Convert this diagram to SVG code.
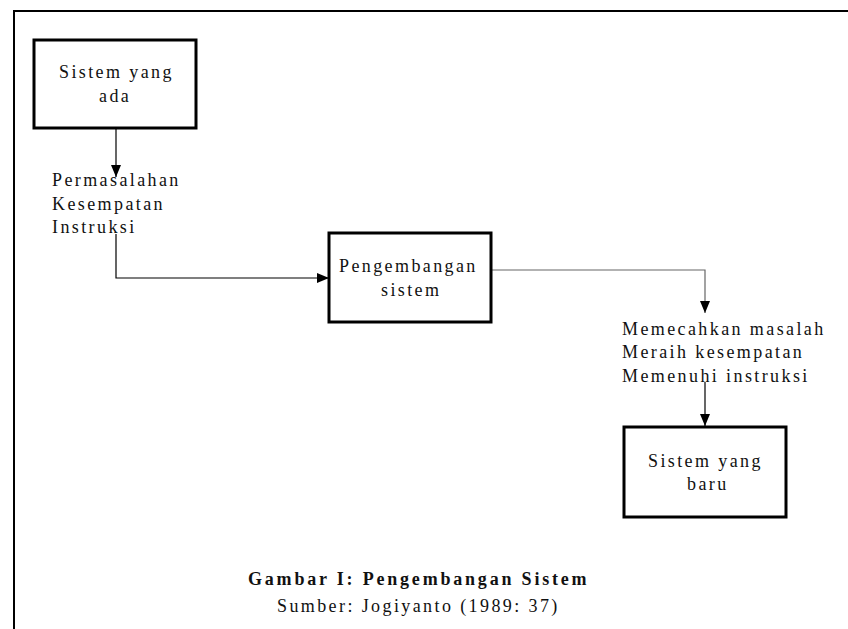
<svg xmlns="http://www.w3.org/2000/svg" width="848" height="629" viewBox="0 0 848 629">
  <style>
    .box { fill: #fff; stroke: #000; stroke-width: 3; }
    .lbl { font-family: "Liberation Serif", "Times New Roman", serif; font-size: 18px; letter-spacing: 2.4px; fill: #111; }
    .cap { font-family: "Liberation Serif", "Times New Roman", serif; font-size: 18px; fill: #111; }
    .wire { fill: none; stroke: #000; stroke-width: 1.2; }
    .wire.gray { stroke: #666; }
  </style>
  <defs>
    <marker id="arrow" viewBox="0 0 12 10" refX="12" refY="5" markerWidth="12" markerHeight="10" markerUnits="userSpaceOnUse" orient="auto">
      <path d="M0,0 L12,5 L0,10 Z" fill="#000"/>
    </marker>
  </defs>
  <rect width="848" height="629" fill="#fff"/>

  <!-- page frame -->
  <path d="M14,629 V11 H848" fill="none" stroke="#000" stroke-width="2"/>

  <g id="connectors">
    <path class="wire" d="M116,128 V177" marker-end="url(#arrow)"/>
    <path class="wire" d="M116,234 V278 H329" marker-end="url(#arrow)"/>
    <path class="wire gray" d="M491,270 H705 V313" marker-end="url(#arrow)"/>
    <path class="wire" d="M705,382 V426" marker-end="url(#arrow)"/>
  </g>

  <g id="node-sistem-ada">
    <rect class="box" x="34" y="40" width="162" height="88"/>
    <text class="lbl" x="59" y="78">Sistem yang</text>
    <text class="lbl" x="99" y="102">ada</text>
  </g>

  <g id="label-masalah">
    <text class="lbl" x="52" y="186">Permasalahan</text>
    <text class="lbl" x="52" y="210">Kesempatan</text>
    <text class="lbl" x="52" y="233">Instruksi</text>
  </g>

  <g id="node-pengembangan">
    <rect class="box" x="329" y="233" width="162" height="89"/>
    <text class="lbl" x="339" y="272">Pengembangan</text>
    <text class="lbl" x="381" y="296">sistem</text>
  </g>

  <g id="label-hasil">
    <text class="lbl" x="622" y="335">Memecahkan masalah</text>
    <text class="lbl" x="622" y="358">Meraih kesempatan</text>
    <text class="lbl" x="622" y="382">Memenuhi instruksi</text>
  </g>

  <g id="node-sistem-baru">
    <rect class="box" x="624" y="427" width="162" height="90"/>
    <text class="lbl" x="648" y="467">Sistem yang</text>
    <text class="lbl" x="687" y="490">baru</text>
  </g>

  <g id="caption">
    <text class="cap" x="248" y="585" font-weight="bold" letter-spacing="2.8">Gambar I: Pengembangan Sistem</text>
    <text class="cap" x="277" y="612" letter-spacing="2.4">Sumber: Jogiyanto (1989: 37)</text>
  </g>
</svg>
